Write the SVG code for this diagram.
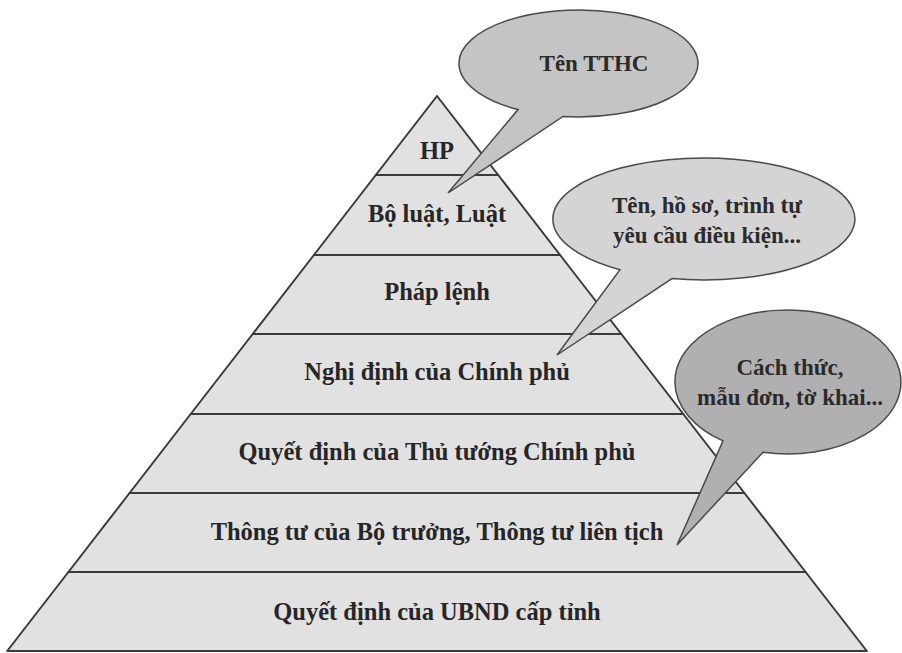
<svg xmlns="http://www.w3.org/2000/svg" width="902" height="653" viewBox="0 0 902 653">
<style>
.tier{fill:#e1e1e1;stroke:#3a3a3a;stroke-width:2;stroke-linejoin:round}
.lbl{font-family:"Liberation Serif","Times New Roman",serif;font-weight:bold;font-size:24.5px;fill:#262626;text-anchor:middle}
.blbl{font-family:"Liberation Serif","Times New Roman",serif;font-weight:bold;font-size:23px;fill:#2a2a2a;text-anchor:middle}
.bubble{stroke:#4a4a4a;stroke-width:1.5;stroke-linejoin:miter}
</style>
<rect width="902" height="653" fill="#ffffff"/>
<g id="pyramid">
<g id="tier-hp"><polygon class="tier" points="437,96 498.2,175 375.8,175"/><text class="lbl" x="437" y="159">HP</text></g>
<g id="tier-boluat"><polygon class="tier" points="375.8,175 498.2,175 560.1,255 313.9,255"/><text class="lbl" x="437" y="222">Bộ luật, Luật</text></g>
<g id="tier-phaplenh"><polygon class="tier" points="313.9,255 560.1,255 621.3,334 252.7,334"/><text class="lbl" x="437" y="300">Pháp lệnh</text></g>
<g id="tier-nghidinh"><polygon class="tier" points="252.7,334 621.3,334 683.3,414 190.7,414"/><text class="lbl" x="437" y="380">Nghị định của Chính phủ</text></g>
<g id="tier-qdttg"><polygon class="tier" points="190.7,414 683.3,414 744.4,493 129.6,493"/><text class="lbl" x="437" y="460">Quyết định của Thủ tướng Chính phủ</text></g>
<g id="tier-thongtu"><polygon class="tier" points="129.6,493 744.4,493 805.6,572 68.4,572"/><text class="lbl" x="437" y="540">Thông tư của Bộ trưởng, Thông tư liên tịch</text></g>
<g id="tier-ubnd"><polygon class="tier" points="68.4,572 805.6,572 866.8,651 7.2,651"/><text class="lbl" x="437" y="620">Quyết định của UBND cấp tỉnh</text></g>
</g>
<g id="callouts">
<g id="bubble-tenthc">
<path class="bubble" fill="#c4c4c4" d="M518,109.6 A119.5,53.5 0 1 1 563,116.5 L448,193 Z"/>
<text class="blbl" x="594" y="71">Tên TTHC</text>
</g>
<g id="bubble-hoso">
<path class="bubble" fill="#d4d4d4" d="M620,269.7 A151,61 0 1 1 672,278.6 L557,355 Z"/>
<text class="blbl" x="707" y="213">Tên, hồ sơ, trình tự</text>
<text class="blbl" x="707" y="243">yêu cầu điều kiện...</text>
</g>
<g id="bubble-cachthuc">
<path class="bubble" fill="#b0b0b0" d="M723,440.9 A113,72 0 1 1 763,452.2 L677,545 Z"/>
<text class="blbl" x="790" y="375">Cách thức,</text>
<text class="blbl" x="790" y="405">mẫu đơn, tờ khai...</text>
</g>
</g>
</svg>
